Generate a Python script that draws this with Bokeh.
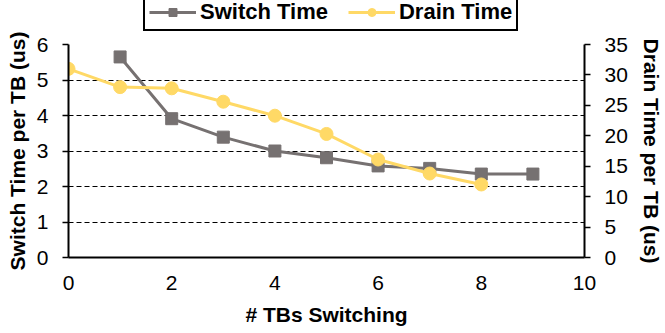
from bokeh.plotting import figure
from bokeh.layouts import column
from bokeh.models import Range1d, LinearAxis, FixedTicker, Legend, LegendItem
from bokeh.embed import file_html
from bokeh.resources import INLINE

# Number of thread blocks switching
switch_tbs = [1, 2, 3, 4, 5, 6, 7, 8, 9]
switch_time = [5.65, 3.91, 3.39, 3.00, 2.81, 2.58, 2.51, 2.35, 2.35]  # us, left axis

drain_tbs = [0, 1, 2, 3, 4, 5, 6, 7, 8]
drain_time = [31.0, 28.0, 27.8, 25.6, 23.3, 20.3, 16.1, 13.8, 12.0]  # us, right axis

x_ticks = [0, 2, 4, 6, 8, 10]
left_ticks = [0, 1, 2, 3, 4, 5, 6]
right_ticks = [0, 5, 10, 15, 20, 25, 30, 35]

GRAY = "#767171"
YELLOW = "#FFD966"
FONT = "Liberation Sans"

LEGEND_H = 32

# ---- main chart ----
p = figure(width=665, height=333 - LEGEND_H, output_backend="svg", toolbar_location=None,
           x_range=Range1d(0, 10), y_range=Range1d(0, 6),
           min_border_left=68, min_border_right=78,
           min_border_top=44 - LEGEND_H, min_border_bottom=76)
p.extra_y_ranges = {"drain": Range1d(0, 35)}
p.outline_line_color = None
p.background_fill_color = "white"
p.border_fill_color = "white"

# grid: dashed horizontal lines only
p.xgrid.grid_line_color = None
p.ygrid.ticker = FixedTicker(ticks=left_ticks)
p.ygrid.grid_line_color = "black"
p.ygrid.grid_line_dash = "5 3"
p.ygrid.grid_line_width = 1.2

def style_axis(ax, label, tick_out, standoff, label_standoff):
    ax.axis_label = label
    ax.axis_label_text_font = FONT
    ax.axis_label_text_font_style = "bold"
    ax.axis_label_text_font_size = "21px"
    ax.axis_label_text_color = "black"
    ax.axis_label_standoff = label_standoff
    ax.major_label_text_font = FONT
    ax.major_label_text_font_size = "21px"
    ax.major_label_text_color = "black"
    ax.major_label_standoff = standoff
    ax.axis_line_color = "black"
    ax.axis_line_width = 2
    ax.major_tick_in = 0
    ax.major_tick_out = tick_out
    ax.major_tick_line_color = "black" if tick_out else None
    ax.major_tick_line_width = 1.5
    ax.minor_tick_line_color = None

xax = p.xaxis[0]
xax.ticker = FixedTicker(ticks=x_ticks)
style_axis(xax, "# TBs Switching", 0, 18, 10)

yax = p.yaxis[0]
yax.ticker = FixedTicker(ticks=left_ticks)
style_axis(yax, "Switch Time per TB (us)", 6, 14, 5)

rax = LinearAxis(y_range_name="drain", ticker=FixedTicker(ticks=right_ticks))
style_axis(rax, "Drain Time per TB (us)", 6, 14, 9)
p.add_layout(rax, "right")

line_sw = dict(line_color=GRAY, line_width=3)
pts_sw = dict(marker="square", size=12, fill_color=GRAY, line_color=GRAY)
line_dr = dict(line_color=YELLOW, line_width=3)
pts_dr = dict(marker="circle", size=13, fill_color=YELLOW, line_color=YELLOW)

p.line(switch_tbs, switch_time, **line_sw)
p.scatter(switch_tbs, switch_time, **pts_sw)
p.line(drain_tbs, drain_time, y_range_name="drain", **line_dr)
p.scatter(drain_tbs, drain_time, y_range_name="drain", **pts_dr)

# ---- legend strip above the chart ----
# same series, kept outside this strip's visible ranges, so only the key shows
lg = figure(width=665, height=LEGEND_H, output_backend="svg", toolbar_location=None,
            x_range=Range1d(0, 1), y_range=Range1d(0, 1),
            x_axis_type=None, y_axis_type=None,
            min_border_left=68, min_border_right=78,
            min_border_top=0, min_border_bottom=0)
lg.outline_line_color = None
lg.xgrid.grid_line_color = None
lg.ygrid.grid_line_color = None
k_sw_line = lg.line(switch_tbs, switch_time, **line_sw)
k_sw_pts = lg.scatter(switch_tbs, switch_time, **pts_sw)
k_dr_line = lg.line(drain_tbs, drain_time, **line_dr)
k_dr_pts = lg.scatter(drain_tbs, drain_time, **pts_dr)

legend = Legend(items=[LegendItem(label="Switch Time", renderers=[k_sw_line, k_sw_pts]),
                       LegendItem(label="Drain Time", renderers=[k_dr_line, k_dr_pts])],
                orientation="horizontal", location=(75, 1),
                label_text_font=FONT, label_text_font_style="bold",
                label_text_font_size="22px", label_text_color="black",
                label_height=22,
                glyph_width=47, glyph_height=20, label_standoff=4, spacing=20,
                padding=4, margin=0,
                border_line_color="black", border_line_alpha=1.0,
                border_line_width=2,
                background_fill_color="white", background_fill_alpha=1)
lg.add_layout(legend, "center")

layout = column(lg, p, spacing=0)
open("out.html", "w").write(file_html(layout, INLINE))
